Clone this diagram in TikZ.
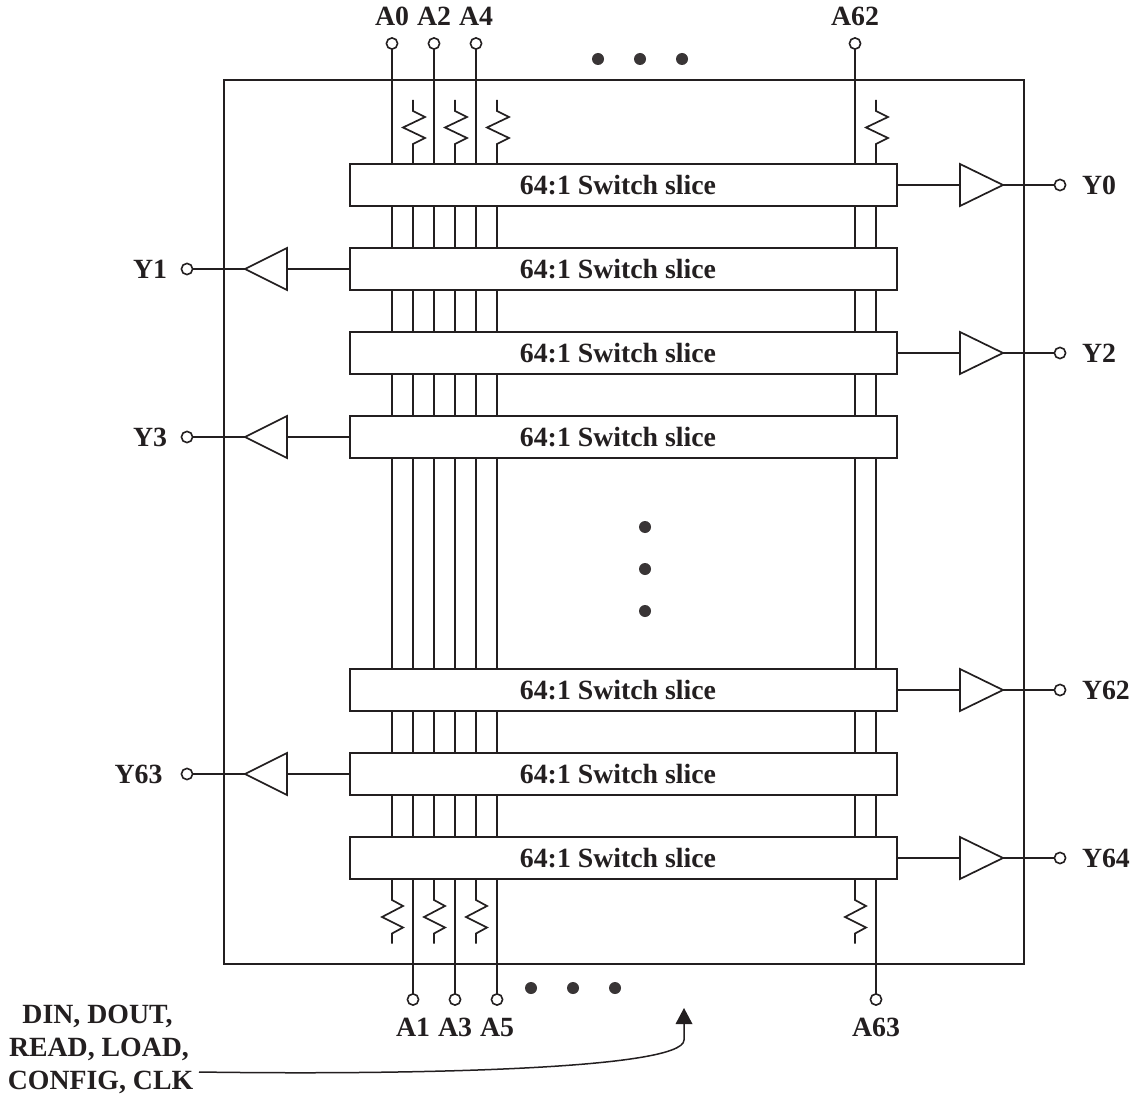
\documentclass[tikz,border=0pt]{standalone}
\usepackage{fontspec}
\setmainfont{Liberation Serif}
\usetikzlibrary{backgrounds,arrows.meta}
\definecolor{ink}{HTML}{231F20}
\tikzset{
  wire/.style={draw=ink,line width=1.7pt},
  slice/.style={draw=ink,fill=white,line width=1.7pt,minimum width=547pt,minimum height=42pt,inner sep=0pt,outer sep=0pt,text=ink,font=\bfseries\fontsize{27.8}{30}\selectfont},
  pinhole/.style={circle,draw=ink,fill=white,line width=1.6pt,minimum size=11.2pt,inner sep=0pt,outer sep=0pt},
  lbl/.style={text=ink,inner sep=0pt,outer sep=0pt,font=\bfseries\fontsize{27.8}{33.3}\selectfont},
  dotmark/.style={circle,fill=ink!90,minimum size=12pt,inner sep=0pt},
  buffer/.style={draw=ink,fill=white,line width=1.7pt,line join=miter}
}
\begin{document}
\begin{tikzpicture}[x=1pt,y=-1pt]
\useasboundingbox (0,0) rectangle (1137,1099);
% frame
\node[draw=ink,line width=1.7pt,minimum width=800pt,minimum height=884pt,inner sep=0pt,outer sep=0pt] (frame) at (624,522) {};
% slices
\foreach \n/\yc in {s0/185,s1/269,s2/353,s3/437,s62/690,s63/774,s64/858}
  \node[slice] (\n) at (623.5,\yc) {\kern-11pt 64:1 Switch slice};
% pins on top and bottom
\foreach \n/\xc in {A0/392,A2/434,A4/476,A62/855} {
  \node[pinhole] (p\n) at (\xc,43.5) {};
  \node[lbl] (l\n) at (\xc,16) {\n};
}
\foreach \n/\xc in {A1/413,A3/455,A5/497,A63/876} {
  \node[pinhole] (p\n) at (\xc,999.5) {};
  \node[lbl] (l\n) at (\xc,1027) {\n};
}
% wires behind slices
\begin{scope}[on background layer]
  \fill[white] (0,0) rectangle (1137,1099);
  \foreach \n in {A0,A2,A4,A62} {
    \draw[wire] (p\n) -- (p\n |- s64.north);
    \draw[wire,line join=miter] (p\n |- s64.south) -- ++(0,21) -- ++(11,6) -- ++(-21,11) -- ++(21,10.5) -- ++(-11,6) -- ++(0,10);
  }
  \foreach \n in {A1,A3,A5,A63} {
    \draw[wire] (p\n) -- (p\n |- s0.south);
    \draw[wire,line join=miter] (p\n |- s0.north) -- ++(0,-20) -- ++(12,-6) -- ++(-22,-10.5) -- ++(22,-10.5) -- ++(-12,-6) -- ++(0,-11);
  }
\end{scope}
% right outputs
\foreach \n/\s in {Y0/s0,Y2/s2,Y62/s62,Y64/s64} {
  \node[pinhole] (p\n) at (1060,0 |- \s) {};
  \node[lbl,anchor=west] (l\n) at (1082,0 |- \s) {\n};
  \coordinate (bi\n) at (960,0 |- \s);
  \coordinate (bo\n) at (1003,0 |- \s);
  \draw[wire] (\s.east) -- (bi\n);
  \draw[buffer] ([yshift=-21pt]bi\n) -- (bo\n) -- ([yshift=21pt]bi\n) -- cycle;
  \draw[wire] (bo\n) -- (p\n);
}
% left outputs
\foreach \n/\s/\xr in {Y1/s1/167,Y3/s3/167,Y63/s63/162.5} {
  \node[pinhole] (p\n) at (187,0 |- \s) {};
  \node[lbl,anchor=east] (l\n) at (\xr,0 |- \s) {\n};
  \coordinate (bi\n) at (287,0 |- \s);
  \coordinate (bo\n) at (245,0 |- \s);
  \draw[wire] (\s.west) -- (bi\n);
  \draw[buffer] ([yshift=-21pt]bi\n) -- (bo\n) -- ([yshift=21pt]bi\n) -- cycle;
  \draw[wire] (bo\n) -- (p\n);
}
% ellipses
\foreach \i/\xc/\yc in {t1/598/59,t2/640/59,t3/682/59,m1/645/527,m2/645/569,m3/645/611,b1/531/988,b2/573/988,b3/615/988}
  \node[dotmark] (d\i) at (\xc,\yc) {};
% control label and arrow
\node[lbl,align=center] (ctrl) at (100.5,1049.3) {\kern-6pt DIN, DOUT,\\\kern-3pt READ, LOAD,\\CONFIG, CLK};
\coordinate (ctrlstart) at (199,1072);
\coordinate (ctrlend) at (684,1008);
\coordinate (ctrlbend) at (684,1040);
\draw[wire,line width=1.5pt] (ctrlstart) .. controls (400,1075) and (684,1070) .. (ctrlbend) -- (ctrlend |- 0,1022);
\fill[ink] (ctrlend) -- ([shift={(-8.5,16)}]ctrlend) -- ([shift={(8.5,16)}]ctrlend) -- cycle;
\end{tikzpicture}
\end{document}
